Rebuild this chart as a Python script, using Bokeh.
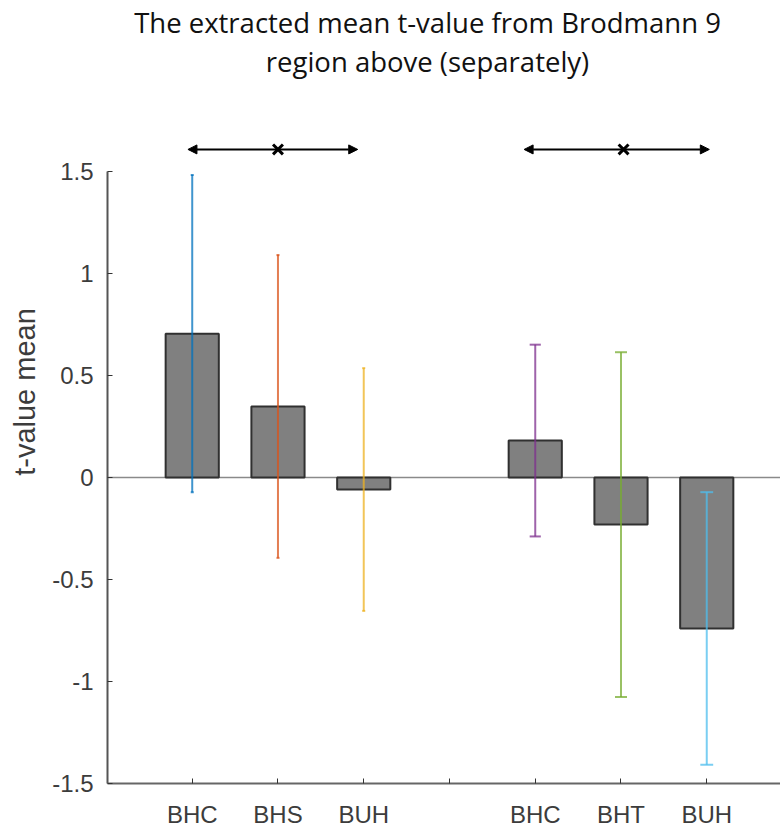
from bokeh.plotting import figure
from bokeh.models import (Range1d, FixedTicker, Span, Arrow, NormalHead, Label,
                          ColumnDataSource, CustomJSTickFormatter)
from bokeh.embed import file_html
from bokeh.resources import INLINE

# ---------------- data ----------------
title_lines = ["The extracted mean t-value from Brodmann 9", "region above (separately)"]
y_label = "t-value mean"
categories = ["BHC", "BHS", "BUH", "BHC", "BHT", "BUH"]
positions = [1, 2, 3, 5, 6, 7]
means = [0.705, 0.348, -0.059, 0.181, -0.231, -0.740]
errors = [0.778, 0.742, 0.595, 0.470, 0.845, 0.668]
err_colors = ["#0072BD", "#D95319", "#EDB120", "#7E2F8E", "#77AC30", "#4DBEEE"]
x_tick_values = [1, 2, 3, 4, 5, 6, 7]
x_tick_labels = ["BHC", "BHS", "BUH", "", "BHC", "BHT", "BUH"]
y_tick_values = [-1.5, -1, -0.5, 0, 0.5, 1, 1.5]
# comparison brackets (start, end, marker position, height)
bracket_start = [0.95, 4.87]
bracket_end = [2.93, 7.03]
bracket_mark = [2.0, 6.03]
bracket_y = [1.608, 1.608]

lower = [m - e for m, e in zip(means, errors)]
upper = [m + e for m, e in zip(means, errors)]
cap_w = [0.035, 0.035, 0.035, 0.13, 0.14, 0.15]

src = ColumnDataSource(dict(x=positions, top=means, lo=lower, hi=upper, c=err_colors,
                            cl=[x - w / 2 for x, w in zip(positions, cap_w)],
                            cr=[x + w / 2 for x, w in zip(positions, cap_w)]))

p = figure(width=780, height=832, output_backend="svg", toolbar_location=None,
           x_range=Range1d(0.012, 7.86), y_range=Range1d(-1.5, 2.338),
           min_border_left=107, min_border_right=0, min_border_top=0, min_border_bottom=49)
p.outline_line_color = None
p.xgrid.visible = False
p.ygrid.visible = False
p.background_fill_color = "white"
p.border_fill_color = "white"

# zero line
p.add_layout(Span(location=0, dimension="width", line_color="#8a8a8a", line_width=1.5, level="underlay"))

# bars
p.vbar(x="x", top="top", bottom=0, width=0.62, source=src,
       fill_color="#808080", line_color="#303030", line_width=2)

# error bars
p.segment(x0="x", y0="lo", x1="x", y1="hi", source=src, line_color="c", line_width=2, line_alpha=0.75)
p.segment(x0="cl", y0="lo", x1="cr", y1="lo", source=src, line_color="c", line_width=2, line_alpha=0.75)
p.segment(x0="cl", y0="hi", x1="cr", y1="hi", source=src, line_color="c", line_width=2, line_alpha=0.75)

# comparison brackets
for s, e, m, y in zip(bracket_start, bracket_end, bracket_mark, bracket_y):
    p.add_layout(Arrow(x_start=m, y_start=y, x_end=s, y_end=y, line_width=2, line_color="black",
                       end=NormalHead(size=9, fill_color="black", line_color="black", line_width=1)))
    p.add_layout(Arrow(x_start=m, y_start=y, x_end=e, y_end=y, line_width=2, line_color="black",
                       end=NormalHead(size=9, fill_color="black", line_color="black", line_width=1)))
p.scatter(x=bracket_mark, y=bracket_y, marker="x", size=14, line_width=3, line_color="black")

# title
for i, t in enumerate(title_lines):
    p.add_layout(Label(x=320, y=761 - i * 39, x_units="screen", y_units="screen", text=t,
                       text_align="center", text_baseline="middle",
                       text_font="Open Sans", text_font_size="27.5px", text_color="#111111"))

# axes
xa = p.xaxis[0]
xa.ticker = FixedTicker(ticks=x_tick_values)
xa.major_label_overrides = {k: v for k, v in zip(x_tick_values, x_tick_labels)}
xa.axis_line_color = "#666666"
xa.axis_line_width = 2
xa.major_tick_in = 5
xa.major_tick_out = 0
xa.major_tick_line_color = "#333333"
xa.minor_tick_line_color = None
xa.major_label_standoff = 17
xa.major_label_text_font = "Liberation Sans"
xa.major_label_text_font_size = "24px"
xa.major_label_text_color = "#3c3c3c"

ya = p.yaxis[0]
ya.bounds = (-1.5, 1.5)
ya.ticker = FixedTicker(ticks=y_tick_values)
ya.formatter = CustomJSTickFormatter(code="return String(tick);")
ya.axis_line_color = "#555555"
ya.axis_line_width = 2
ya.major_tick_in = 5
ya.major_tick_out = 0
ya.major_tick_line_color = "#333333"
ya.minor_tick_line_color = None
ya.major_label_standoff = 14
ya.major_label_text_font = "Liberation Sans"
ya.major_label_text_font_size = "24px"
ya.major_label_text_color = "#3c3c3c"
ya.axis_label = y_label
ya.axis_label_text_font = "Liberation Sans"
ya.axis_label_text_font_size = "29px"
ya.axis_label_text_font_style = "normal"
ya.axis_label_text_color = "#3c3c3c"
ya.axis_label_standoff = 8

open("out.html", "w").write(file_html(p, INLINE))
